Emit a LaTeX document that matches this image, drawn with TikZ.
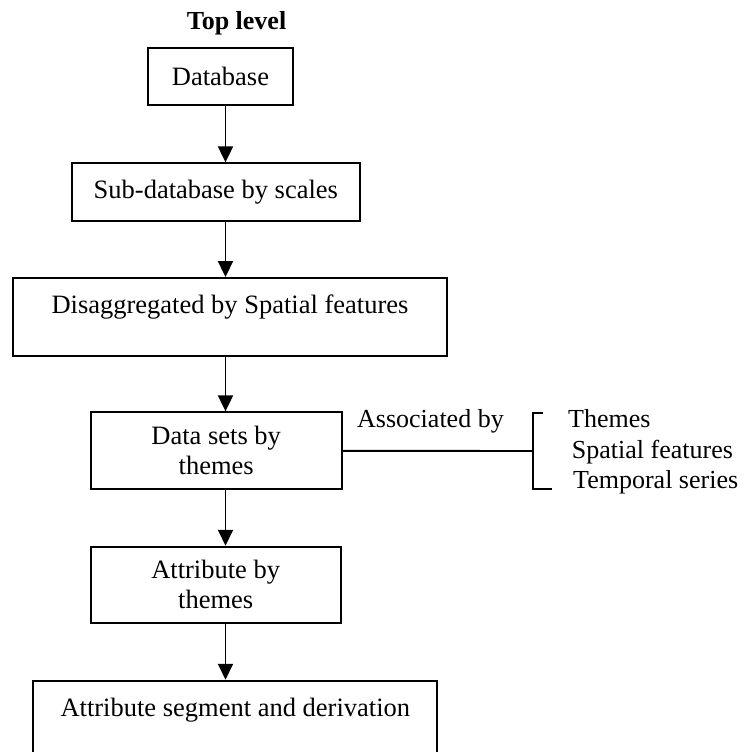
\documentclass[tikz,border=0pt]{standalone}
\usepackage{fontspec}
\setmainfont{Liberation Serif}
\usetikzlibrary{arrows.meta}
\tikzset{
  box/.style={draw, line width=1.9pt, rectangle, inner sep=0pt, align=center},
  arr/.style={line width=1.9pt, -{Triangle[width=15pt,length=16pt]}},
  ln/.style={line width=1.9pt},
  txt/.style={inner sep=0pt, anchor=base, align=center},
  side/.style={inner sep=0pt, anchor=base west, font=\fontsize{26}{30}\selectfont},
}
\begin{document}
\begin{tikzpicture}[x=1pt,y=-1pt,font=\fontsize{26.5}{30}\selectfont]
\useasboundingbox (0,0) rectangle (744,752);
\clip (0,0) rectangle (744,752);
\coordinate (ax) at (225.5,0);

\node[txt, font=\fontsize{26}{30}\selectfont\bfseries] (top) at (236.5,30) {Top level};

\node[box, minimum width=144.4pt, minimum height=56.7pt] (db) at (220.5,76.7) {Database};
\node[box, minimum width=288.3pt, minimum height=57.4pt] (sub) at (215.85,192) {Sub-database by scales};
\node[box, minimum width=434pt, minimum height=78pt] (dis) at (230,317) {};
\node[txt] (distxt) at (230,313) {Disaggregated by Spatial features};
\node[box, minimum width=251pt, minimum height=77pt] (ds) at (216.2,450.8) {Data sets by\\themes};
\node[box, minimum width=250pt, minimum height=76.3pt] (ab) at (215.7,584.85) {Attribute by\\themes};
\node[box, minimum width=404pt, minimum height=89.3pt] (seg) at (234.7,725.35) {};
\node[txt] (segtxt) at (235.3,716.7) {Attribute segment and derivation};

\draw[arr] (db.south -| ax) -- (sub.north -| ax);
\draw[arr] (sub.south -| ax) -- (dis.north -| ax);
\draw[arr] (dis.south -| ax) -- (ds.north -| ax);
\draw[arr] (ds.south -| ax) -- (ab.north -| ax);
\draw[arr] (ab.south -| ax) -- (seg.north -| ax);

% association
\node[side] (assoc) at (357,427) {Associated by};
\coordinate (br) at (532.7,451);
\coordinate (brt) at (532.7,413.3);
\coordinate (brb) at (532.7,489);
\draw[ln] (ds.east) -- (br);
\draw[ln] (542.7,413.3) -- (brt) -- (brb) -- (551.7,489);
\node[side] (th) at (568,427) {Themes};
\node[side] (sp) at (571.7,458) {Spatial features};
\node[side] (tp) at (573,488) {Temporal series};
\end{tikzpicture}
\end{document}
